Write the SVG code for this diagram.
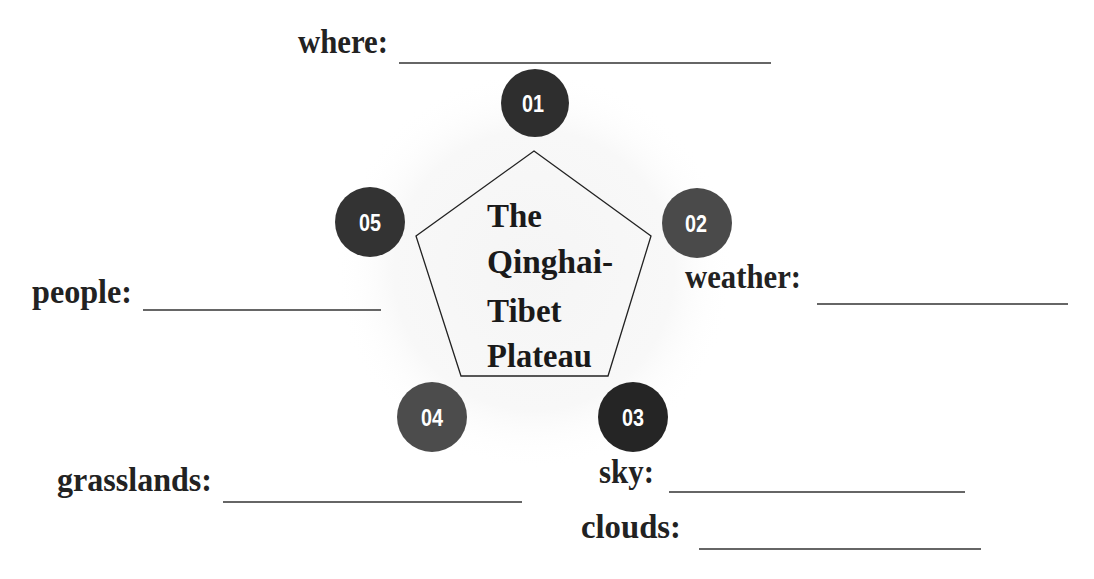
<svg xmlns="http://www.w3.org/2000/svg" width="1094" height="579" viewBox="0 0 1094 579">
  <defs>
    <radialGradient id="halo" cx="534" cy="270" r="200" gradientUnits="userSpaceOnUse">
      <stop offset="0" stop-color="#f5f5f5"/>
      <stop offset="0.7" stop-color="#f8f8f8"/>
      <stop offset="1" stop-color="#ffffff" stop-opacity="0"/>
    </radialGradient>
    <style>
      .lbl { font-family: "Liberation Serif", "Times New Roman", serif; font-weight: bold; font-size: 34px; fill: #222; }
      .ctr { font-family: "Liberation Serif", "Times New Roman", serif; font-weight: bold; font-size: 33px; fill: #1a1a1a; }
      .num { font-family: "Liberation Sans", Arial, sans-serif; font-weight: bold; font-size: 23px; fill: #ffffff; text-anchor: middle; }
      .ul { stroke: #333; stroke-width: 1.6; fill: none; }
      .pent { fill: none; stroke: #222; stroke-width: 1.3; }
    </style>
  </defs>
  <rect width="1094" height="579" fill="#ffffff"/>
  <circle cx="534" cy="270" r="200" fill="url(#halo)"/>

  <g id="center">
    <polygon class="pent" points="534,151 651,236 608,376 461,376 416,236"/>
    <text class="ctr" x="487" y="227">The</text>
    <text class="ctr" x="487" y="273" textLength="126" lengthAdjust="spacingAndGlyphs">Qinghai-</text>
    <text class="ctr" x="487" y="322">Tibet</text>
    <text class="ctr" x="487" y="367" textLength="105" lengthAdjust="spacingAndGlyphs">Plateau</text>
  </g>

  <g id="node-01">
    <circle cx="535" cy="103" r="34" fill="#2e2e2e"/>
    <text class="num" x="533" y="111.5" textLength="22" lengthAdjust="spacingAndGlyphs">01</text>
  </g>
  <g id="node-02">
    <circle cx="697" cy="223" r="35" fill="#4a4a4a"/>
    <text class="num" x="696" y="231.5" textLength="22" lengthAdjust="spacingAndGlyphs">02</text>
  </g>
  <g id="node-03">
    <circle cx="633" cy="417" r="35" fill="#252525"/>
    <text class="num" x="633" y="425.5" textLength="22" lengthAdjust="spacingAndGlyphs">03</text>
  </g>
  <g id="node-04">
    <circle cx="432" cy="417" r="35" fill="#4c4c4c"/>
    <text class="num" x="432" y="425.5" textLength="22" lengthAdjust="spacingAndGlyphs">04</text>
  </g>
  <g id="node-05">
    <circle cx="370" cy="222" r="35" fill="#333333"/>
    <text class="num" x="370" y="230.5" textLength="22" lengthAdjust="spacingAndGlyphs">05</text>
  </g>

  <g id="label-where">
    <text class="lbl" x="298" y="53" textLength="90" lengthAdjust="spacingAndGlyphs">where:</text>
    <line class="ul" x1="399" y1="63" x2="771" y2="63"/>
  </g>
  <g id="label-weather">
    <text class="lbl" x="685" y="288" textLength="116" lengthAdjust="spacingAndGlyphs">weather:</text>
    <line class="ul" x1="817" y1="304" x2="1068" y2="304"/>
  </g>
  <g id="label-people">
    <text class="lbl" x="32" y="303" textLength="100" lengthAdjust="spacingAndGlyphs">people:</text>
    <line class="ul" x1="143" y1="310" x2="381" y2="310"/>
  </g>
  <g id="label-grasslands">
    <text class="lbl" x="57" y="491" textLength="155" lengthAdjust="spacingAndGlyphs">grasslands:</text>
    <line class="ul" x1="223" y1="502" x2="522" y2="502"/>
  </g>
  <g id="label-sky">
    <text class="lbl" x="599" y="483" textLength="55" lengthAdjust="spacingAndGlyphs">sky:</text>
    <line class="ul" x1="669" y1="492" x2="965" y2="492"/>
  </g>
  <g id="label-clouds">
    <text class="lbl" x="581" y="538" textLength="100" lengthAdjust="spacingAndGlyphs">clouds:</text>
    <line class="ul" x1="699" y1="549" x2="981" y2="549"/>
  </g>

  <g id="connectors"></g>
</svg>
